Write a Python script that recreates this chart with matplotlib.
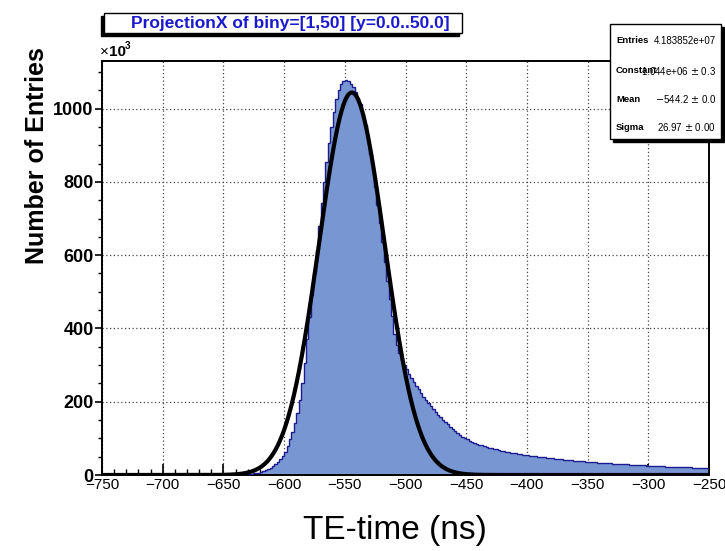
import matplotlib
matplotlib.use("Agg")
import matplotlib.pyplot as plt
from matplotlib.patches import Rectangle
from matplotlib.ticker import MultipleLocator
import numpy as np

plt.rcParams['font.family'] = ['Liberation Sans', 'DejaVu Sans']

# ---- data (counts in units of 10^3), 2 ns bins from -750 to -250 ----
x_min, x_max = -750, -250
counts_left_tail = [
    0.2, 0.2, 0.2, 0.2, 0.2, 0.2, 0.2, 0.2, 0.2, 0.2,
    0.3, 0.3, 0.3, 0.3, 0.3, 0.3, 0.3, 0.3, 0.3, 0.3,
    0.4, 0.4, 0.4, 0.4, 0.4, 0.4, 0.4, 0.4, 0.4, 0.4,
    0.5, 0.5, 0.5, 0.5, 0.5, 0.5, 0.5, 0.5, 0.5, 0.5,
    0.6, 0.6, 0.6, 0.7, 0.7, 0.7, 0.8, 0.8,
    0.8, 0.9, 0.9, 0.9, 1.0, 1.0, 1.1,
]
counts_peak = [
    1.2, 1.4, 1.7, 2.0, 2.5, 3.0, 3.7, 4.5, 5.5, 6.8,
    8.5, 10.5, 13, 16, 20, 24, 29, 35, 43, 52,
    64, 79, 97, 118, 142, 170, 205, 250, 305, 370,
    430, 490, 550, 615, 680, 742, 800, 855, 905, 950,
    990, 1025, 1050, 1066, 1075, 1078, 1075, 1068, 1058, 1045,
    1030, 1012, 985, 955, 918, 876, 832, 786, 738, 688,
    635, 582, 530, 480, 433, 385,
]
counts_right_tail = [
    355, 332, 314, 300, 288, 276, 265, 254, 244, 234,
    224, 214, 205, 196, 188, 180, 172, 165, 158, 151,
    145, 138, 132, 126, 120, 115, 110, 105, 101, 97.5,
    94, 91, 88, 85.5, 83, 81, 79, 77, 75, 73.2,
    71.5, 69.8, 68.2, 66.7, 65.2, 63.8, 62.5, 61.2, 60, 58.9,
    57.8, 56.8, 55.8, 54.8, 53.9, 53, 52.1, 51.2, 50.3, 49.4,
    48.6, 47.8, 47, 46.2, 45.4, 44.7, 44, 43.3, 42.6, 41.9,
    41.2, 40.6, 40, 39.4, 38.8, 38.2, 37.6, 37, 36.5, 36,
    35.5, 35, 34.5, 34, 33.5, 33, 32.5, 32, 31.6, 31.2,
    30.8, 30.4, 30, 29.6, 29.2, 28.8, 28.4, 28, 27.6, 27.2,
    26.8, 26.4, 26, 25.6, 25.3, 25, 24.7, 24.4, 24.1, 23.8,
    23.5, 23.2, 22.9, 22.6, 22.3, 22, 21.7, 21.4, 21.2, 21,
    20.8, 20.6, 20.4, 20.2, 20, 19.8, 19.6, 19.4, 19.2,
]
counts = np.array(counts_left_tail + counts_peak + counts_right_tail)

# Gaussian fit parameters (from the stats box)
fit_constant = 1.044e6 / 1e3
fit_mean = -544.2
fit_sigma = 26.97

stats_labels = ["Entries", "Constant", "Mean", "Sigma"]
stats_values = ["4.183852e+07", "1.044e+06 $\\pm$ 0.3", "$-$544.2 $\\pm$ 0.0", "26.97 $\\pm$ 0.00"]

title_text = "ProjectionX of biny=[1,50] [y=0.0..50.0]"
x_label = "TE-time (ns)"
y_label = "Number of Entries"

# ---- figure ----
W, H = 725, 551
fig = plt.figure(figsize=(W / 100, H / 100), dpi=100)

def fx(px):
    return px / W

def fy(py):
    return 1 - py / H

ax = fig.add_axes([fx(102), fy(475), fx(709) - fx(102), fy(61) - fy(475)])

edges = np.linspace(x_min, x_max, len(counts) + 1)
ax.stairs(counts, edges, fill=True, color='#7896d2', zorder=2)
ax.stairs(counts, edges, fill=False, color='#1c1c8f', linewidth=1.0, zorder=3)

xf = np.linspace(x_min, x_max, 1000)
yf = fit_constant * np.exp(-0.5 * ((xf - fit_mean) / fit_sigma) ** 2)
ax.plot(xf, yf, color='black', linewidth=3, zorder=4, solid_capstyle='butt')

ax.set_xlim(x_min, x_max)
ax.set_ylim(0, 1130)

ax.xaxis.set_major_locator(MultipleLocator(50))
ax.xaxis.set_minor_locator(MultipleLocator(10))
ax.yaxis.set_major_locator(MultipleLocator(200))
ax.yaxis.set_minor_locator(MultipleLocator(50))

ax.grid(True, which='major', linestyle=(0, (1, 2)), color='#444444', linewidth=0.9, zorder=1)
ax.set_axisbelow(True)

ax.tick_params(axis='x', which='major', direction='in', length=8, width=1.2,
               labelsize=11, pad=2, top=False)
ax.tick_params(axis='x', which='minor', direction='in', length=4, width=1.0, top=False)
ax.tick_params(axis='y', which='major', direction='out', length=5, width=1.2,
               labelsize=13, pad=1, right=False)
ax.tick_params(axis='y', which='minor', direction='out', length=3, width=1.0, right=False)
for sp in ax.spines.values():
    sp.set_linewidth(1.4)

ax.set_xticks(np.arange(x_min, x_max + 1, 50))
ax.set_xticklabels([f"\u2212{abs(v)}" for v in range(x_min, x_max + 1, 50)])
yt = np.arange(0, 1001, 200)
ax.set_yticks(yt)
ax.set_yticklabels([str(v) for v in yt], fontweight='bold')

fig.text(fx(395), fy(530), x_label, fontsize=24, ha='center', va='center')
fig.text(fx(37), fy(156), y_label, fontsize=18, fontweight='bold',
         rotation=90, ha='center', va='center')

# x10^3 multiplier
fig.text(fx(100), fy(56), "\u00d7", fontsize=11, ha='left', va='baseline')
fig.text(fx(109), fy(56), "10", fontsize=11, fontweight='bold', ha='left', va='baseline')
fig.text(fx(125), fy(49), "3", fontsize=7, fontweight='bold', ha='left', va='baseline')

# title box with shadow
fig.patches.append(Rectangle((fx(101), fy(36)), fx(459) - fx(101), fy(16) - fy(36),
                             transform=fig.transFigure, facecolor='black',
                             edgecolor='black', zorder=5))
fig.patches.append(Rectangle((fx(104), fy(33)), fx(462) - fx(104), fy(13) - fy(33),
                             transform=fig.transFigure, facecolor='white',
                             edgecolor='black', linewidth=1.0, zorder=6))
fig.text(fx(290), fy(23.5), title_text, fontsize=12.5, fontweight='bold',
         color='#1a1acc', ha='center', va='center', zorder=7)

# stats box with shadow
fig.patches.append(Rectangle((fx(613), fy(142)), fx(724) - fx(613), fy(27) - fy(142),
                             transform=fig.transFigure, facecolor='black',
                             edgecolor='black', zorder=5))
fig.patches.append(Rectangle((fx(610), fy(139)), fx(721) - fx(610), fy(24) - fy(139),
                             transform=fig.transFigure, facecolor='white',
                             edgecolor='black', linewidth=1.0, zorder=6))
for i, (lab, val) in enumerate(zip(stats_labels, stats_values)):
    ypx = [40.7, 70.7, 99.3, 127.3][i]
    fig.text(fx(616), fy(ypx), lab, fontsize=6.8, fontweight='bold',
             ha='left', va='center', zorder=7)
    fig.text(fx(716), fy(ypx), val, fontsize=7, ha='right', va='center', zorder=7)

fig.savefig("out.png", dpi=100)
